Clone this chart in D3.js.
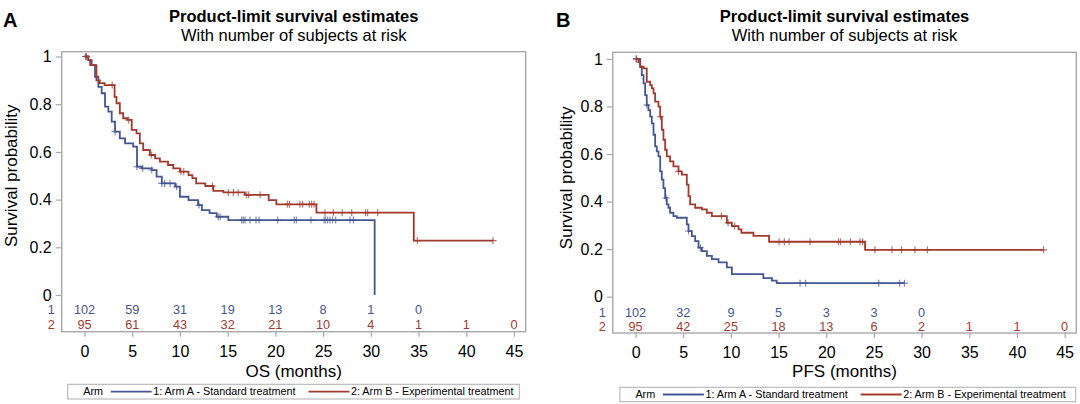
<!DOCTYPE html>
<html>
<head>
<meta charset="utf-8">
<title>Product-limit survival estimates</title>
<script src="https://d3js.org/d3.v7.min.js"></script>
<style>
  body { margin: 0; background: #fff; }
  svg { display: block; font-family: "Liberation Sans", Arial, Helvetica, sans-serif; }
</style>
</head>
<body>
<svg width="1080" height="404"></svg>
<script>
// shared axis values
const timeTicks = [0, 5, 10, 15, 20, 25, 30, 35, 40, 45];
const probTicks = [0, 0.2, 0.4, 0.6, 0.8, 1];
const probTickLabels = ["0", "0.2", "0.4", "0.6", "0.8", "1"];
const armNames = ["1: Arm A - Standard treatment", "2: Arm B - Experimental treatment"];
const armColors = ["#445694", "#A23A2E"];

// panel A - overall survival, arm A (event times / survival after each event)
const osArmATimes = [0.4, 0.75, 1.1, 1.45, 1.8, 2.15, 2.5, 2.85, 3.2, 3.7, 4.25, 5.1, 5.5, 6.0, 7.05, 7.55, 8.1, 9.5, 10.0, 10.9, 11.9, 12.3, 13.1, 13.85, 15.07, 30.4];
const osArmASurv  = [0.985, 0.964, 0.915, 0.873, 0.846, 0.79, 0.769, 0.727, 0.685, 0.657, 0.636, 0.622, 0.538, 0.531, 0.524, 0.496, 0.468, 0.454, 0.412, 0.398, 0.377, 0.356, 0.343, 0.328, 0.314, 0];
const osArmACensored = [0.2, 3.2, 5.5, 6.1, 7.05, 8.1, 8.4, 8.96, 9.66, 12.0, 14.0, 14.2, 16.47, 16.64, 16.82, 17.34, 17.97, 18.29, 20.24, 21.98, 22.19, 23.73, 25.1, 25.27, 25.48, 25.72, 26.0, 26.32, 27.82, 28.17];
const osArmAEnd = 30.4;

// panel A - overall survival, arm B
const osArmBTimes = [0.4, 0.6, 1.25, 1.6, 2.1, 3.15, 3.35, 3.7, 4.05, 4.5, 4.95, 5.45, 5.8, 6.15, 6.85, 7.4, 7.9, 8.75, 9.3, 10.0, 10.9, 11.3, 11.7, 12.65, 13.5, 14.55, 16.8, 19.3, 20.1, 24.3, 34.5];
const osArmBSurv  = [0.985, 0.964, 0.9, 0.888, 0.88, 0.831, 0.804, 0.762, 0.741, 0.734, 0.692, 0.678, 0.636, 0.608, 0.587, 0.573, 0.559, 0.545, 0.531, 0.517, 0.503, 0.49, 0.468, 0.457, 0.437, 0.43, 0.42, 0.398, 0.38, 0.345, 0.228];
const osArmBCensored = [0.1, 2.9, 4.6, 7.0, 10.1, 10.4, 13.4, 15.07, 15.6, 16.1, 17.0, 17.2, 18.4, 21.25, 21.46, 22.58, 22.86, 23.55, 23.8, 24.05, 25.2, 26.07, 27.0, 28.0, 29.46, 29.67, 30.72, 34.87, 42.8];
const osArmBEnd = 42.8;

// panel A - number at risk
const osAtRiskA = [102, 59, 31, 19, 13, 8, 1, 0];
const osAtRiskB = [95, 61, 43, 32, 21, 10, 4, 1, 1, 0];

// panel B - progression-free survival, arm A
const pfsArmATimes = [0.48, 0.65, 0.83, 1.0, 1.17, 1.35, 1.53, 1.7, 1.88, 2.05, 2.22, 2.4, 2.58, 2.75, 2.92, 3.1, 3.27, 3.45, 3.62, 3.97, 4.32, 5.37, 5.55, 5.9, 6.25, 6.6, 6.95, 7.47, 8.0, 8.7, 9.57, 10.1, 13.4, 14.3, 14.8];
const pfsArmASurv  = [0.967, 0.932, 0.897, 0.848, 0.806, 0.785, 0.757, 0.729, 0.681, 0.632, 0.611, 0.59, 0.527, 0.492, 0.457, 0.415, 0.388, 0.374, 0.353, 0.339, 0.332, 0.304, 0.276, 0.255, 0.234, 0.206, 0.192, 0.172, 0.158, 0.144, 0.123, 0.095, 0.078, 0.068, 0.057];
const pfsArmACensored = [0.1, 1.17, 3.2, 5.55, 6.8, 17.25, 17.84, 25.5, 27.7, 28.2];
const pfsArmAEnd = 28.2;

// panel B - progression-free survival, arm B
const pfsArmBTimes = [0.3, 0.48, 0.83, 1.17, 1.53, 1.7, 1.88, 2.05, 2.4, 2.58, 2.75, 2.92, 3.1, 3.27, 3.62, 3.97, 4.5, 4.85, 5.37, 5.55, 5.72, 6.25, 6.95, 7.47, 8.0, 9.57, 10.1, 10.8, 11.1, 12.36, 14.0, 24.07];
const pfsArmBSurv  = [0.987, 0.967, 0.96, 0.904, 0.89, 0.876, 0.855, 0.82, 0.799, 0.757, 0.702, 0.66, 0.618, 0.59, 0.569, 0.548, 0.527, 0.513, 0.471, 0.423, 0.388, 0.374, 0.367, 0.353, 0.339, 0.311, 0.297, 0.283, 0.269, 0.256, 0.231, 0.197];
const pfsArmBCensored = [0.05, 2.6, 4.5, 9.0, 9.7, 10.4, 15.05, 15.6, 16.1, 18.3, 21.27, 21.48, 22.53, 23.54, 23.82, 25.1, 26.9, 27.9, 29.3, 30.6, 42.8];
const pfsArmBEnd = 42.8;

// panel B - number at risk
const pfsAtRiskA = [102, 32, 9, 5, 3, 3, 0];
const pfsAtRiskB = [95, 42, 25, 18, 13, 6, 2, 1, 1, 0];

const svg = d3.select("svg");
const frameColor = "#a8a8a8";

// survival value of a step curve at time t
function survAt(times, surv, t) {
    let s = 1;
    for (let i = 0; i < times.length; i++) {
        if (times[i] <= t) s = surv[i];
    }
    return s;
}

function curvePoints(times, surv, end) {
    const pts = [[0, 1]];
    times.forEach((t, i) => pts.push([t, surv[i]]));
    if (end > times[times.length - 1]) pts.push([end, surv[surv.length - 1]]);
    return pts;
}

function drawPanel(p) {
    const g = svg.append("g");
    const f = p.frame;

    const x = d3.scaleLinear().domain([0, 45]).range([f.left + 22.8, f.right - 11.7]);
    const y = d3.scaleLinear().domain([0, 1]).range([f.top + p.zeroOffset, f.top + p.oneOffset]);

    // panel letter
    g.append("text")
        .attr("x", p.letterX).attr("y", 26.5)
        .attr("font-size", 20).attr("font-weight", "bold")
        .text(p.letter);

    // titles
    const cx = (f.left + f.right) / 2;
    g.append("text")
        .attr("x", cx).attr("y", 21.5)
        .attr("text-anchor", "middle")
        .attr("font-size", 16.5).attr("font-weight", "bold")
        .text("Product-limit survival estimates");
    g.append("text")
        .attr("x", cx).attr("y", 40.8)
        .attr("text-anchor", "middle")
        .attr("font-size", 16.5)
        .text("With number of subjects at risk");

    // frame
    g.append("rect")
        .attr("x", f.left).attr("y", f.top)
        .attr("width", f.right - f.left).attr("height", f.bottom - f.top)
        .attr("fill", "none")
        .attr("stroke", frameColor).attr("stroke-width", 1.4);

    // x axis
    const xAxis = g.append("g")
        .attr("transform", `translate(0,${f.bottom})`)
        .call(d3.axisBottom(x).tickValues(timeTicks).tickSize(5).tickPadding(8.5));
    xAxis.select(".domain").remove();
    xAxis.selectAll(".tick line").attr("stroke", frameColor).attr("stroke-width", 1.2);
    xAxis.selectAll(".tick text")
        .attr("font-size", 16).attr("font-family", null).attr("fill", "#000");

    // y axis
    const yAxis = g.append("g")
        .attr("transform", `translate(${f.left},0)`)
        .call(d3.axisLeft(y).tickValues(probTicks).tickSize(6).tickPadding(4)
            .tickFormat((d, i) => probTickLabels[i]));
    yAxis.select(".domain").remove();
    yAxis.selectAll(".tick line").attr("stroke", frameColor).attr("stroke-width", 1.2);
    yAxis.selectAll(".tick text")
        .attr("font-size", 16).attr("font-family", null).attr("fill", "#000");

    // axis titles
    g.append("text")
        .attr("x", cx).attr("y", 377)
        .attr("text-anchor", "middle")
        .attr("font-size", 17)
        .text(p.xTitle);
    g.append("text")
        .attr("transform", `translate(${p.yTitleX},${(y(0) + y(1)) / 2}) rotate(-90)`)
        .attr("text-anchor", "middle")
        .attr("font-size", 17)
        .text("Survival probability");

    // survival curves
    const line = d3.line()
        .x(d => x(d[0]))
        .y(d => y(d[1]))
        .curve(d3.curveStepAfter);

    p.arms.forEach((arm, k) => {
        g.append("path")
            .datum(curvePoints(arm.times, arm.surv, arm.end))
            .attr("d", line)
            .attr("fill", "none")
            .attr("stroke", armColors[k])
            .attr("stroke-width", 1.8)
            .attr("stroke-linejoin", "miter");

        g.append("g").selectAll("path")
            .data(arm.censored)
            .join("path")
            .attr("transform", t => `translate(${x(t)},${y(survAt(arm.times, arm.surv, t))})`)
            .attr("d", "M-3.5,0H3.5M0,-3.5V3.5")
            .attr("stroke", armColors[k])
            .attr("stroke-opacity", 0.75)
            .attr("stroke-width", 1.1);

        // number at risk
        const rowY = y(0) + p.riskRows[k];
        g.append("text")
            .attr("x", f.left - 10.5).attr("y", rowY + 4.5)
            .attr("text-anchor", "middle")
            .attr("font-size", 12.7)
            .attr("fill", armColors[k])
            .text(k + 1);
        g.append("g").selectAll("text")
            .data(arm.atRisk)
            .join("text")
            .attr("x", (d, i) => x(timeTicks[i]))
            .attr("y", rowY + 4.5)
            .attr("text-anchor", "middle")
            .attr("font-size", 12.7)
            .attr("fill", armColors[k])
            .text(d => d);
    });

    // legend
    const L = p.legend;
    const lg = g.append("g").attr("transform", `translate(${L.left},${L.top})`);
    lg.append("rect")
        .attr("width", L.width).attr("height", L.height)
        .attr("fill", "none").attr("stroke", "#b4b4b4").attr("stroke-width", 1.1);
    const midY = L.height / 2;
    lg.append("text")
        .attr("x", 15.5).attr("y", midY + 3.8)
        .attr("font-size", 10.8)
        .text("Arm");
    let pos = 43;
    armNames.forEach((name, k) => {
        lg.append("line")
            .attr("x1", pos).attr("x2", pos + 41)
            .attr("y1", midY).attr("y2", midY)
            .attr("stroke", armColors[k]).attr("stroke-width", 1.8);
        const t = lg.append("text")
            .attr("x", pos + 42.5).attr("y", midY + 3.8)
            .attr("font-size", 10.8)
            .text(name);
        pos = pos + 42.5 + t.node().getComputedTextLength() + 13;
    });
}

drawPanel({
    letter: "A", letterX: 3, xTitle: "OS (months)", yTitleX: 16.5,
    frame: { left: 61.7, right: 525.7, top: 51.7, bottom: 331.7 },
    zeroOffset: 243.3, oneOffset: 4.8,
    riskRows: [14.3, 29.3],
    legend: { left: 67.7, top: 384.3, width: 451.6, height: 14.7 },
    arms: [
        { times: osArmATimes, surv: osArmASurv, censored: osArmACensored, end: osArmAEnd, atRisk: osAtRiskA },
        { times: osArmBTimes, surv: osArmBSurv, censored: osArmBCensored, end: osArmBEnd, atRisk: osAtRiskB }
    ]
});

drawPanel({
    letter: "B", letterX: 556, xTitle: "PFS (months)", yTitleX: 571.5,
    frame: { left: 612.8, right: 1076.3, top: 52.3, bottom: 333 },
    zeroOffset: 244.4, oneOffset: 6.6,
    riskRows: [15.3, 30.2],
    legend: { left: 619.9, top: 387.3, width: 455.8, height: 14.4 },
    arms: [
        { times: pfsArmATimes, surv: pfsArmASurv, censored: pfsArmACensored, end: pfsArmAEnd, atRisk: pfsAtRiskA },
        { times: pfsArmBTimes, surv: pfsArmBSurv, censored: pfsArmBCensored, end: pfsArmBEnd, atRisk: pfsAtRiskB }
    ]
});
</script>
</body>
</html>
